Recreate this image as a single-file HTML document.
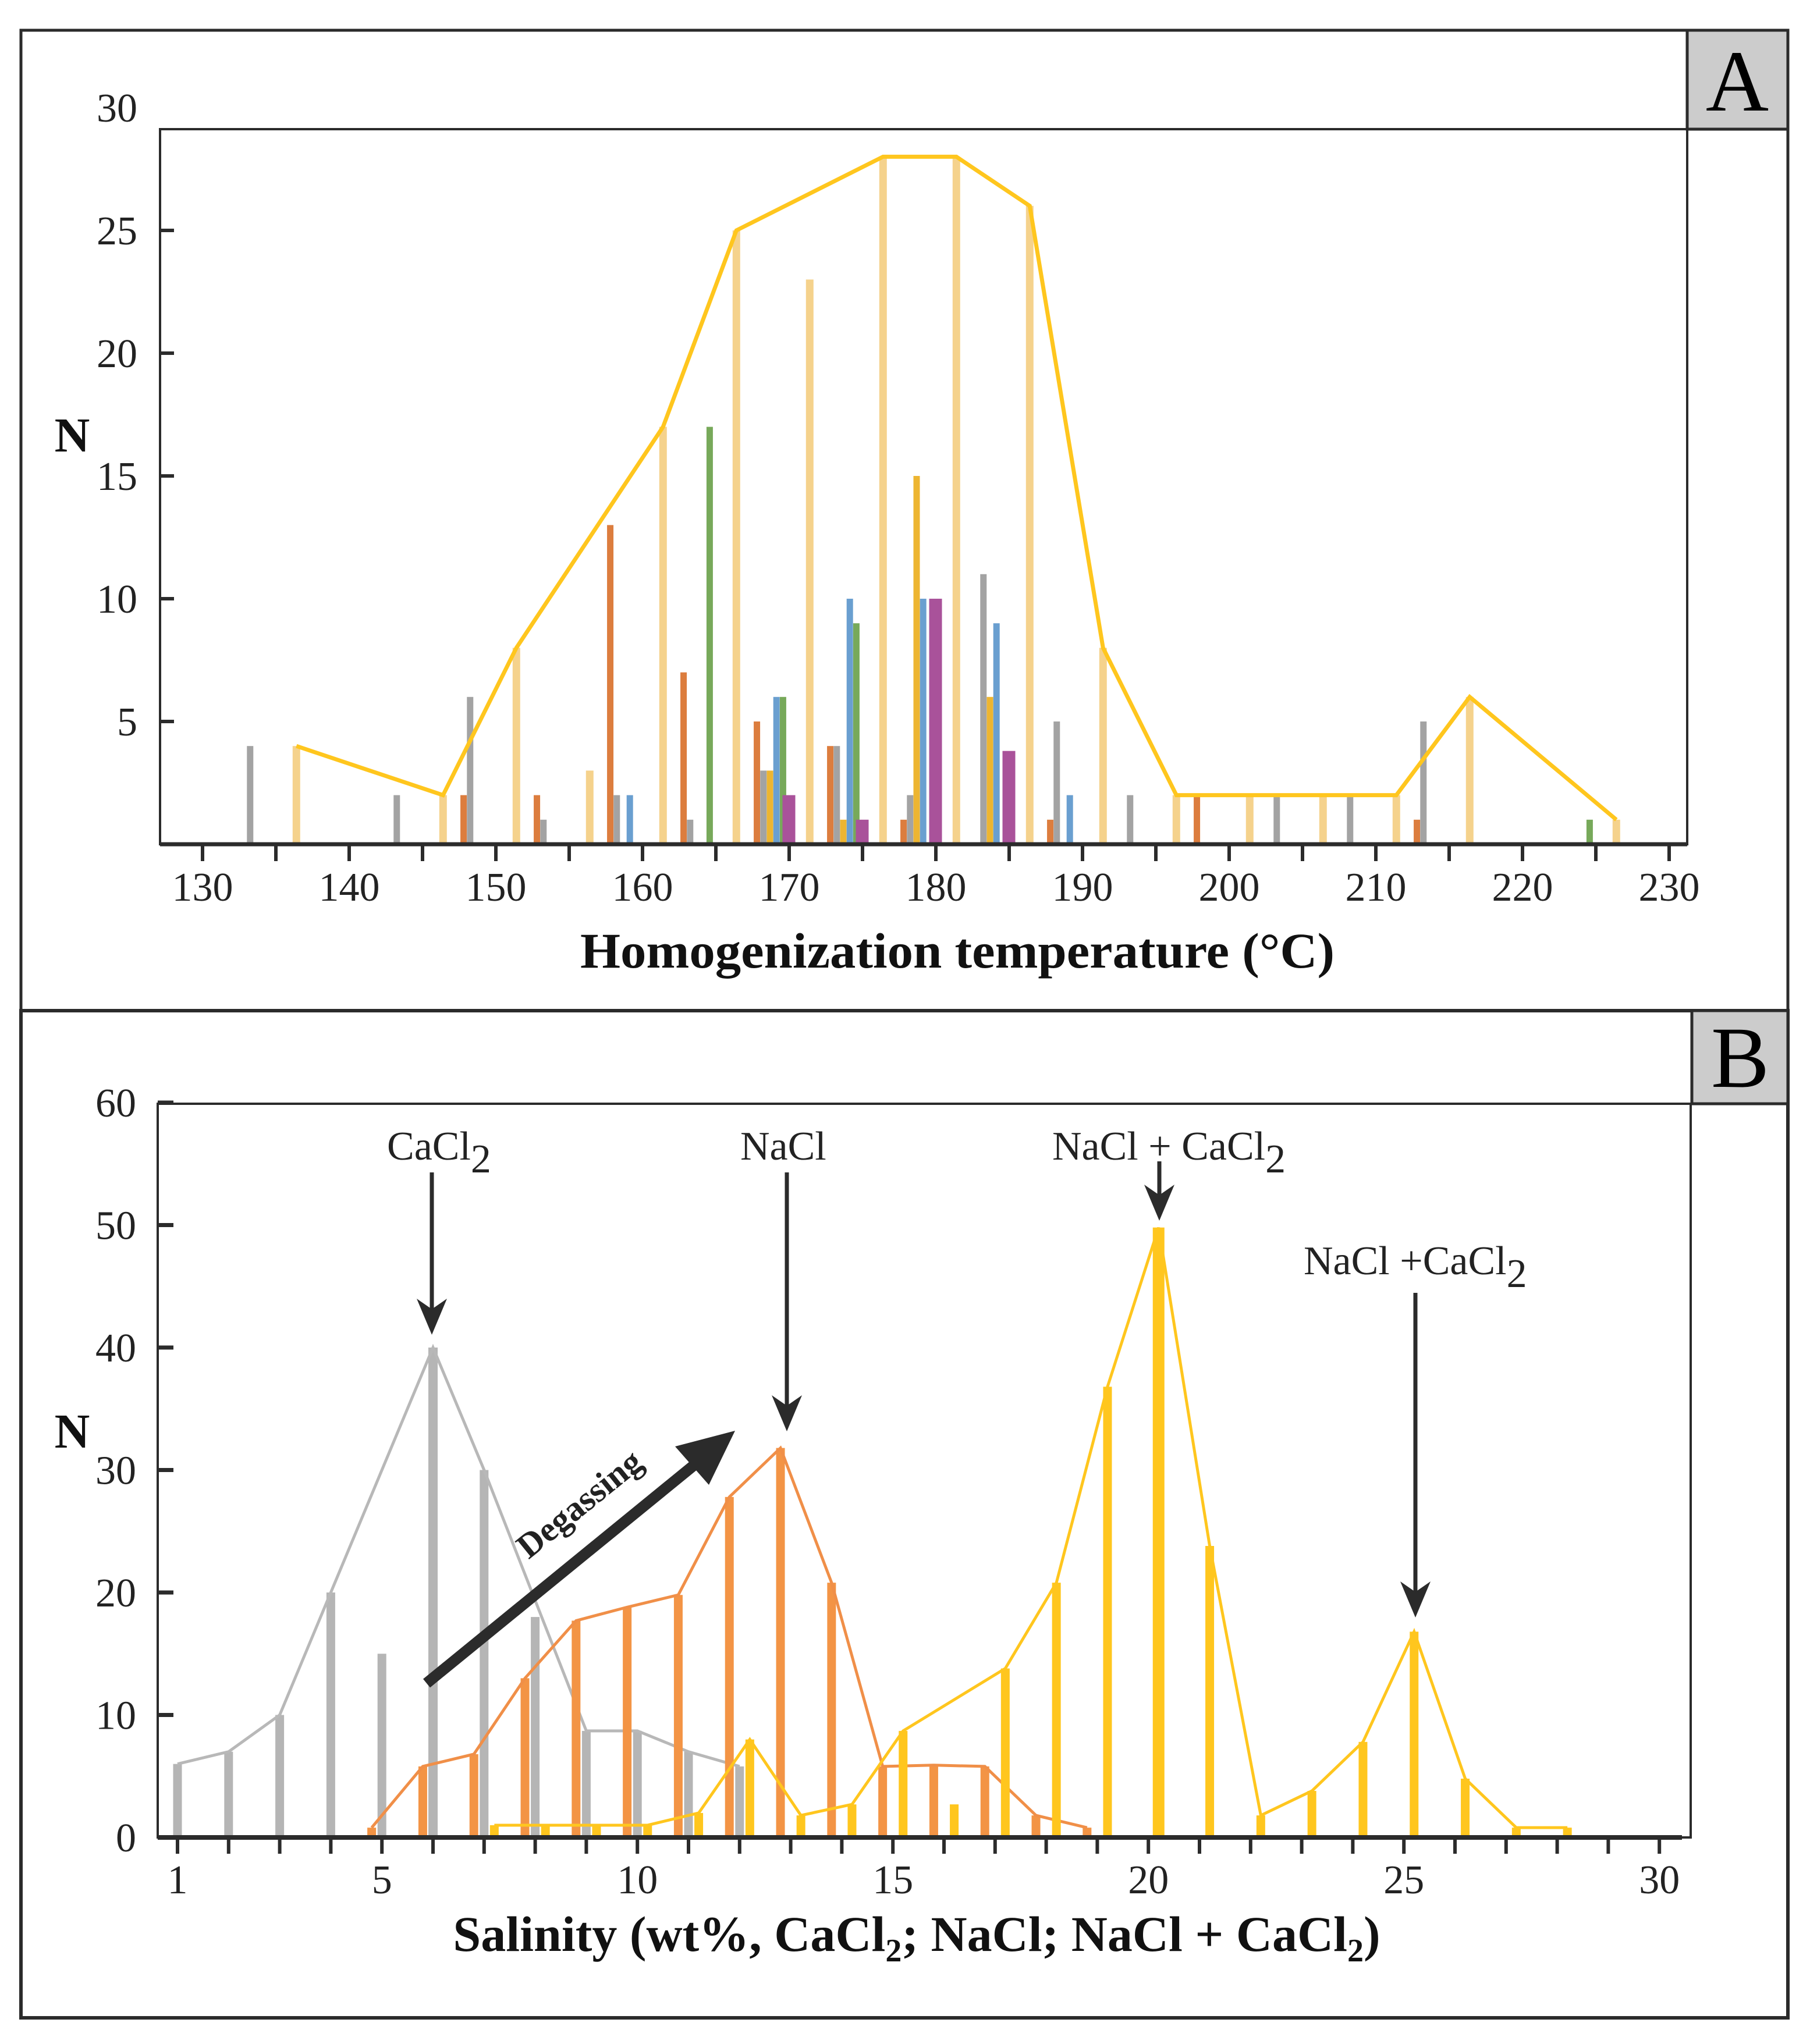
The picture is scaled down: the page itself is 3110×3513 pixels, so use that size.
<!DOCTYPE html>
<html><head><meta charset="utf-8"><style>
html,body{margin:0;padding:0;background:#fff;}
svg{display:block;font-family:"Liberation Serif",serif;}
</style></head><body>
<svg id="chart" width="3110" height="3513" viewBox="0 0 3110 3513" xmlns="http://www.w3.org/2000/svg">
<rect x="0" y="0" width="3110" height="3513" fill="#fff"/>
<g id="gA"></g>
<g id="gB"></g>
</svg>
<script>
// ---------- Panel A data ----------
const binStartsA = [130,135,140,145,150,155,160,165,170,175,180,185,190,195,200,205,210,215,220,225];
const orangeA = [0,0,0,2,2,13,7,5,4,1,0,1,0,2,0,0,1,0,0,0];
const grayA   = [4,0,2,6,1,2,1,3,4,2,11,5,2,0,2,2,5,0,0,0];
const goldA   = [0,0,0,0,0,0,0,3,1,15,6,0,0,0,0,0,0,0,0,0];
const blueA   = [0,0,0,0,0,2,0,6,10,10,9,2,0,0,0,0,0,0,0,0];
const greenA  = [0,0,0,0,0,0,17,6,9,0,0,0,0,0,0,0,0,0,1,0];
const purpleA = [0,0,0,0,0,0,0,2,1,10,3.8,0,0,0,0,0,0,0,0,0];
const lightA  = [4,0,2,8,3,17,25,23,28,28,26,8,2,2,2,2,6,0,1,0];
const lineBinsA = [130,140,145,155,160,170,175,180,185,190,195,200,205,210,220];
const lineValsA = [4,2,8,17,25,28,28,26,8,2,2,2,2,6,1];
const xTicksA = [130,140,150,160,170,180,190,200,210,220,230];
const yTicksA = [5,10,15,20,25,30];
// ---------- Panel B data ----------
const grayBX = [1,2,3,4,5,6,7,8,9,10,11,12];
const grayBN = [6,7,10,20,15,40,30,18,8.7,8.7,7,5.8];
const grayLineX = [1,2,3,4,6,7,9,10,11,12];
const grayLineN = [6,7,10,20,40,30,8.7,8.7,7,5.8];
const orangeBX = [4.8,5.8,6.8,7.8,8.8,9.8,10.8,11.8,12.8,13.8,14.8,15.8,16.8,17.8,18.8];
const orangeBN = [0.8,5.8,6.8,13,17.7,18.8,19.8,27.8,31.8,20.8,5.8,5.9,5.8,1.8,0.8];
const yellowBX = [7.2,8.2,9.2,10.2,11.2,12.2,13.2,14.2,15.2,16.2,17.2,18.2,19.2,20.2,21.2,22.2,23.2,24.2,25.2,26.2,27.2,28.2];
const yellowBN = [1,1,1,1,2,8,1.8,2.7,8.7,2.7,13.8,20.8,36.8,49.8,23.8,1.8,3.8,7.8,16.8,4.8,0.8,0.8];
const yellowLineX = [7.2,8.2,9.2,10.2,11.2,12.2,13.2,14.2,15.2,17.2,18.2,19.2,20.2,21.2,22.2,23.2,24.2,25.2,26.2,27.2,28.2];
const yellowLineN = [1,1,1,1,2,8,1.8,2.7,8.7,13.8,20.8,36.8,49.8,23.8,1.8,3.8,7.8,16.8,4.8,0.8,0.8];
const xTicksB = [1,5,10,15,20,25,30];
const yTicksB = [0,10,20,30,40,50,60];

const NS = 'http://www.w3.org/2000/svg';
function mk(tag, attrs, parent){
  const e = document.createElementNS(NS, tag);
  for (const k in attrs) e.setAttribute(k, attrs[k]);
  parent.appendChild(e);
  return e;
}
const gA = document.getElementById('gA');
const gB = document.getElementById('gB');

const xA = t => 348 + (t - 130) * 25.2;
const yA = n => 1451 - n * 42.2;
const xB = v => 305 + (v - 1) * 87.8;
const yB = n => 3158 - n * 21.05;

let e;
e = mk('rect', {x:36,y:52,width:3036,height:1685,fill:'none',stroke:'#2b2b2b','stroke-width':5}, gA);


e = mk('rect', {x:2899,y:52,width:173,height:170,fill:'#cccccc',stroke:'#2b2b2b','stroke-width':5}, gA);


e = mk('text', {x:2985,y:190,'font-size':150,'text-anchor':'middle',fill:'#000'}, gA);
e.textContent = 'A';


e = mk('rect', {x:275,y:222,width:2624,height:1229,fill:'none',stroke:'#2b2b2b','stroke-width':4}, gA);



const slotW = 0.445;
function barA(cx, val, w, color, name){
  if (!val) return;
  const b = mk('rect', {x:xA(cx)-w/2, y:yA(val), width:w, height:yA(0)-yA(val), fill:color}, gA);
  
  
}
binStartsA.forEach((s,i)=>{
  barA(s+6.4, lightA[i], 13, '#f5d28c', 'bar-light-'+s);
  barA(s+2.8, orangeA[i], 11, '#dc7d3e', 'bar-orange-'+s);
  barA(s+2.8+slotW, grayA[i], 11, '#a3a3a3', 'bar-gray-'+s);
  barA(s+2.8+2*slotW, goldA[i], 11, '#edb531', 'bar-gold-'+s);
  barA(s+2.8+3*slotW, blueA[i], 11, '#6a9fd0', 'bar-blue-'+s);
  barA(s+2.8+4*slotW, greenA[i], 11, '#77a95a', 'bar-green-'+s);
  barA(s+2.8+4.9*slotW, purpleA[i], 22, '#a9529a', 'bar-purple-'+s);
});
e = mk('polyline', {points: lineBinsA.map((s,i)=>xA(s+6.4)+','+yA(lineValsA[i])).join(' '), fill:'none', stroke:'#ffc61e','stroke-width':7,'stroke-linejoin':'miter'}, gA);



e = mk('line', {x1:275,y1:1451,x2:2899,y2:1451,stroke:'#2b2b2b','stroke-width':7}, gA);


for (let t=130; t<=230; t+=5){
  e = mk('line', {x1:xA(t),y1:1451,x2:xA(t),y2:1480,stroke:'#2b2b2b','stroke-width':6}, gA);
  
  
}
xTicksA.forEach(t=>{
  e = mk('text', {x:xA(t),y:1548,'font-size':70,'text-anchor':'middle',fill:'#222'}, gA);
  e.textContent = String(t);
  
  
});
yTicksA.forEach(n=>{
  if (n < 30) {
    e = mk('line', {x1:275,y1:yA(n),x2:299,y2:yA(n),stroke:'#2b2b2b','stroke-width':6}, gA);
    
    
  }
  e = mk('text', {x:236,y:yA(n)+24,'font-size':70,'text-anchor':'end',fill:'#222'}, gA);
  e.textContent = String(n);
  
  
});
e = mk('text', {x:124,y:776,'font-size':84,'font-weight':'bold','text-anchor':'middle',fill:'#111'}, gA);
e.textContent = 'N';


e = mk('text', {x:1645,y:1663,'font-size':86,'font-weight':'bold','text-anchor':'middle',fill:'#111',textLength:1296,lengthAdjust:'spacingAndGlyphs'}, gA);
e.textContent = 'Homogenization temperature (°C)';



e = mk('rect', {x:36,y:1737,width:3036,height:1731,fill:'none',stroke:'#2b2b2b','stroke-width':6}, gB);


e = mk('rect', {x:2907,y:1737,width:165,height:160,fill:'#cccccc',stroke:'#2b2b2b','stroke-width':5}, gB);


e = mk('text', {x:2990,y:1868,'font-size':150,'text-anchor':'middle',fill:'#000'}, gB);
e.textContent = 'B';


e = mk('rect', {x:271,y:1897,width:2634,height:1261,fill:'none',stroke:'#2b2b2b','stroke-width':4}, gB);



function barB(v, n, w, color, name){
  const b = mk('rect', {x:xB(v)-w/2, y:yB(n), width:w, height:yB(0)-yB(n), fill:color}, gB);
  
  
}
grayBX.forEach((v,i)=>barB(v, grayBN[i], v===6?16:15, '#b5b5b5', 'bar-cacl2-'+v));
e = mk('polyline', {points: grayLineX.map((v,i)=>xB(v)+','+yB(grayLineN[i])).join(' '), fill:'none', stroke:'#b8b8b8','stroke-width':5}, gB);


orangeBX.forEach((v,i)=>barB(v, orangeBN[i], 15, '#f39445', 'bar-nacl-'+v));
e = mk('polyline', {points: orangeBX.map((v,i)=>xB(v)+','+yB(orangeBN[i])).join(' '), fill:'none', stroke:'#f08f48','stroke-width':5}, gB);


yellowBX.forEach((v,i)=>barB(v, yellowBN[i], v===20.2?20:15, '#ffc61e', 'bar-nacl-cacl2-'+v));
e = mk('polyline', {points: yellowLineX.map((v,i)=>xB(v)+','+yB(yellowLineN[i])).join(' '), fill:'none', stroke:'#ffc61e','stroke-width':5}, gB);



e = mk('line', {x1:271,y1:3158,x2:2890,y2:3158,stroke:'#2b2b2b','stroke-width':8}, gB);


for (let v=1; v<=30; v++){
  e = mk('line', {x1:xB(v),y1:3158,x2:xB(v),y2:3186,stroke:'#2b2b2b','stroke-width':6}, gB);
  
  
}
xTicksB.forEach(v=>{
  e = mk('text', {x:xB(v),y:3254,'font-size':70,'text-anchor':'middle',fill:'#222'}, gB);
  e.textContent = String(v);
  
  
});
yTicksB.forEach(n=>{
  e = mk('line', {x1:271,y1:yB(n),x2:298,y2:yB(n),stroke:'#2b2b2b','stroke-width':7}, gB);
  
  
  e = mk('text', {x:234,y:yB(n)+24,'font-size':70,'text-anchor':'end',fill:'#222'}, gB);
  e.textContent = String(n);
  
  
});
e = mk('text', {x:124,y:2488,'font-size':84,'font-weight':'bold','text-anchor':'middle',fill:'#111'}, gB);
e.textContent = 'N';



function annArrow(x, y1, y2, name){
  const l = mk('line', {x1:x,y1:y1,x2:x,y2:y2-40,stroke:'#2b2b2b','stroke-width':7}, gB);
  
  
  const p = mk('polygon', {points:`${x-26},${y2-62} ${x},${y2-44} ${x+26},${y2-62} ${x},${y2}`, fill:'#2b2b2b'}, gB);
  
  
}
function annText(x, y, main, sub, name){
  const t = mk('text', {x:x,y:y,'font-size':70,'text-anchor':'start',fill:'#222'}, gB);
  
  
  const a = mk('tspan', {}, t); a.textContent = main;
  if (sub){ const b = mk('tspan', {dy:22}, t); b.textContent = sub; }
}
annText(665, 1993, 'CaCl', '2', 'label-cacl2');
annArrow(742, 2015, 2294, 'arrow-cacl2');
annText(1272, 1993, 'NaCl', '', 'label-nacl');
annArrow(1352, 2015, 2460, 'arrow-nacl');
annText(1808, 1993, 'NaCl + CaCl', '2', 'label-nacl-cacl2-main');
annArrow(1992, 1996, 2098, 'arrow-nacl-cacl2-main');
annText(2240, 2190, 'NaCl +CaCl', '2', 'label-nacl-cacl2-second');
annArrow(2432, 2222, 2780, 'arrow-nacl-cacl2-second');

e = mk('line', {x1:733,y1:2893,x2:1200,y2:2512,stroke:'#2b2b2b','stroke-width':19}, gB);


e = mk('polygon', {points:'1263,2459 1160,2486 1218,2552', fill:'#2b2b2b'}, gB);


e = mk('text', {x:0,y:0,'font-size':60,'font-weight':'bold','text-anchor':'middle',fill:'#222',transform:'translate(1008,2600) rotate(-39)'}, gB);
e.textContent = 'Degassing';



e = mk('text', {x:1575,y:3353,'font-size':86,'font-weight':'bold','text-anchor':'middle',fill:'#111'}, gB);


[['Salinity (wt%, CaCl',0],['2',18],['; NaCl; NaCl + CaCl',-18],['2',18],[')',-18]].forEach(p=>{
  const s = mk('tspan', {dy:p[1]}, e);
  if (p[0]==='2') s.setAttribute('font-size', 56);
  s.textContent = p[0];
});
</script>
</body></html>
